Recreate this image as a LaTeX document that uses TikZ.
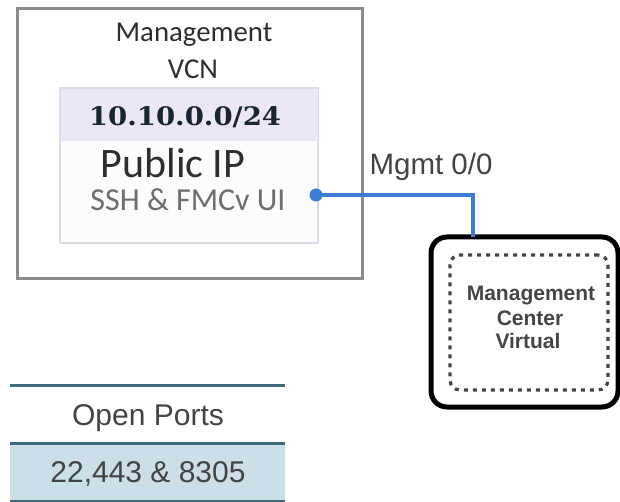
\documentclass[tikz,border=0pt]{standalone}
\usepackage{fontspec}
\setmainfont{Liberation Sans}
\newfontfamily\calibri{Carlito}
\newfontfamily\dvserif{DejaVu Serif}
\definecolor{boxgray}{HTML}{8C8C8C}
\definecolor{subnetborder}{HTML}{DCDCE8}
\definecolor{subnetfill}{HTML}{FCFCFF}
\definecolor{bandfill}{HTML}{ECE7F5}
\definecolor{navy}{HTML}{1A2533}
\definecolor{textdark}{HTML}{2E2E2E}
\definecolor{devtext}{HTML}{454545}
\definecolor{textgray}{HTML}{6E6E6E}
\definecolor{linkblue}{HTML}{3A7FD5}
\definecolor{teal}{HTML}{3E6B7B}
\definecolor{tablefill}{HTML}{CCDEE7}
\begin{document}
\begin{tikzpicture}[x=1pt,y=-1pt,
  box/.style={rectangle,inner sep=0pt,outer sep=0pt,anchor=north west},
  lbl/.style={inner sep=0pt,anchor=base},
  fs/.style={font=\fontsize{#1}{#1}\selectfont},
  bfs/.style={font=\bfseries\fontsize{#1}{#1}\selectfont},
  cfs/.style={font=\calibri\fontsize{#1}{#1}\selectfont},
  blueline/.style={draw=linkblue,line width=3.6pt},
  tline/.style={draw=teal,line width=3pt}]
\useasboundingbox (0,0) rectangle (620,502);
% Management VCN box
\node[box,draw=boxgray,line width=3pt,minimum width=345pt,minimum height=269pt] (vcn) at (17,9) {};
\node[lbl,cfs=28.8,text=textdark] (vcnt1) at (194,42) {Management};
\node[lbl,cfs=28.8,text=textdark] (vcnt2) at (193,79) {VCN};
% subnet box
\node[box,draw=subnetborder,fill=subnetfill,line width=2pt,minimum width=258pt,minimum height=155pt] (subnet) at (60,88) {};
\node[box,fill=bandfill,minimum width=257pt,minimum height=52pt] (band) at (60.5,89) {};
\node[lbl,text=navy] (cidr) at (185,126) {\scalebox{1.08}[1]{\dvserif\bfseries\fontsize{25.5}{25.5}\selectfont 10.10.0.0/24}};
\node[lbl,cfs=42,text=textdark] (pubip) at (173,178) {Public IP};
\node[lbl,cfs=32,text=textgray] (ssh) at (188,211) {SSH \& FMCv UI};
% device
\node[box,draw=black,line width=5pt,rounded corners=16pt,minimum width=187pt,minimum height=170pt] (dev) at (431,237) {};
\node[box,draw=devtext,line width=3.2pt,dash pattern=on 4pt off 5pt,rounded corners=10pt,minimum width=158pt,minimum height=135pt] (devin) at (450,255) {};
\node[lbl,bfs=21,text=devtext] (dt1) at (531,300) {Management};
\node[lbl,bfs=21,text=devtext] (dt2) at (530,325) {Center};
\node[lbl,bfs=21,text=devtext] (dt3) at (528,348) {Virtual};
% connector
\coordinate (dot) at (316,195);
\coordinate (port) at (473,237);
\draw[blueline] (dot) -| (port);
\fill[linkblue] (dot) circle (6.5pt);
\node[lbl,fs=29.5,text=textdark!90!white] (mgmt) at (431,175) {Mgmt 0/0};
% open ports table
\fill[tablefill] (10,443) rectangle (285,502);
\coordinate (t1l) at (10,385); \coordinate (t1r) at (285,385);
\coordinate (t2l) at (10,443); \coordinate (t2r) at (285,443);
\coordinate (t3l) at (10,501); \coordinate (t3r) at (285,501);
\draw[tline] (t1l) -- (t1r);
\draw[tline] (t2l) -- (t2r);
\draw[tline] (t3l) -- (t3r);
\node[lbl,fs=30,text=textdark!90!white] (ports) at (148,425) {Open Ports};
\node[lbl,fs=30,text=textdark!90!white] (portnums) at (148,482) {22,443 \& 8305};
\end{tikzpicture}
\end{document}
